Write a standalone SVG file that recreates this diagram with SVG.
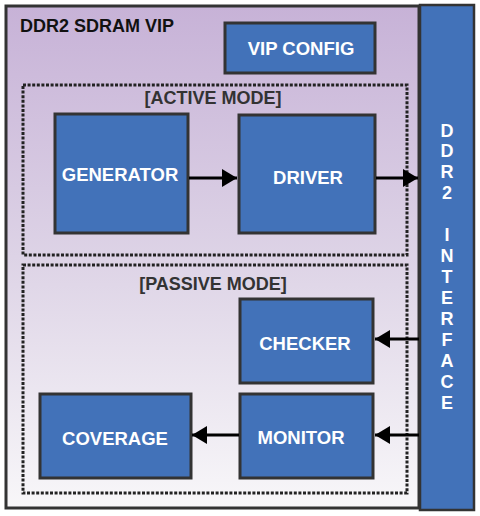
<svg xmlns="http://www.w3.org/2000/svg" width="480" height="516" viewBox="0 0 480 516">
<defs>
<linearGradient id="bg" x1="0" y1="0" x2="0" y2="1">
<stop offset="0" stop-color="#c7b2d7"/>
<stop offset="0.5" stop-color="#ddd3e6"/>
<stop offset="1" stop-color="#f8f7f9"/>
</linearGradient>
<marker id="ah" viewBox="0 0 10 12" refX="10" refY="6" markerWidth="5" markerHeight="6" orient="auto" markerUnits="strokeWidth">
<path d="M0,0 L10,6 L0,12 z" fill="#000"/>
</marker>
<style>
.blk{fill:#4272b9;stroke:#333;stroke-width:3}
.lbl{font-family:"Liberation Sans",Arial,sans-serif;font-weight:bold;font-size:18.5px;fill:#fff;text-anchor:middle}
.mode{font-family:"Liberation Sans",Arial,sans-serif;font-weight:bold;font-size:18px;fill:#333;text-anchor:middle}
.dash{fill:none;stroke:#222;stroke-width:3;stroke-dasharray:3 1.6}
.con{stroke:#000;stroke-width:3;fill:none;marker-end:url(#ah)}
.vt{font-family:"Liberation Sans",Arial,sans-serif;font-weight:bold;font-size:18px;fill:#fff;text-anchor:middle}
</style>
</defs>
<g id="vip">
<rect x="6" y="6" width="413" height="502" fill="url(#bg)" stroke="#333" stroke-width="3"/>
<text x="20" y="32" font-family="Liberation Sans, Arial, sans-serif" font-weight="bold" font-size="18" fill="#111">DDR2 SDRAM VIP</text>
</g>
<g id="active-mode">
<rect class="dash" x="23" y="85" width="384" height="170"/>
<text class="mode" x="213" y="104">[ACTIVE MODE]</text>
</g>
<g id="passive-mode">
<rect class="dash" x="23" y="265" width="384" height="228"/>
<text class="mode" x="213" y="290">[PASSIVE MODE]</text>
</g>
<g id="vip-config">
<rect class="blk" x="225" y="23" width="150" height="50"/>
<text class="lbl" x="301" y="55">VIP CONFIG</text>
</g>
<g id="generator">
<rect class="blk" x="55" y="114" width="133" height="119"/>
<text class="lbl" x="120" y="181">GENERATOR</text>
</g>
<g id="driver">
<rect class="blk" x="239" y="115" width="136" height="118"/>
<text class="lbl" x="308" y="184">DRIVER</text>
</g>
<g id="checker">
<rect class="blk" x="240" y="299" width="133" height="84"/>
<text class="lbl" x="305" y="350">CHECKER</text>
</g>
<g id="monitor">
<rect class="blk" x="240" y="394" width="133" height="84"/>
<text class="lbl" x="301" y="444">MONITOR</text>
</g>
<g id="coverage">
<rect class="blk" x="40" y="394" width="151" height="84"/>
<text class="lbl" x="115" y="445">COVERAGE</text>
</g>
<g id="ddr2-interface">
<rect x="420" y="5" width="54" height="505" fill="#4272b9" stroke="#333" stroke-width="2.5"/>
<text class="vt" x="447" y="137">D</text>
<text class="vt" x="447" y="157">D</text>
<text class="vt" x="447" y="178">R</text>
<text class="vt" x="447" y="199">2</text>
<text class="vt" x="447" y="241">I</text>
<text class="vt" x="447" y="262">N</text>
<text class="vt" x="447" y="283">T</text>
<text class="vt" x="447" y="304">E</text>
<text class="vt" x="447" y="325">R</text>
<text class="vt" x="447" y="346">F</text>
<text class="vt" x="447" y="367">A</text>
<text class="vt" x="447" y="388">C</text>
<text class="vt" x="447" y="409">E</text>
</g>
<g id="connectors">
<line class="con" x1="189" y1="178" x2="237" y2="178"/>
<line class="con" x1="376" y1="178" x2="418" y2="178"/>
<line class="con" x1="419" y1="339" x2="375" y2="339"/>
<line class="con" x1="419" y1="435" x2="375" y2="435"/>
<line class="con" x1="239" y1="435" x2="192" y2="435"/>
</g>
</svg>
